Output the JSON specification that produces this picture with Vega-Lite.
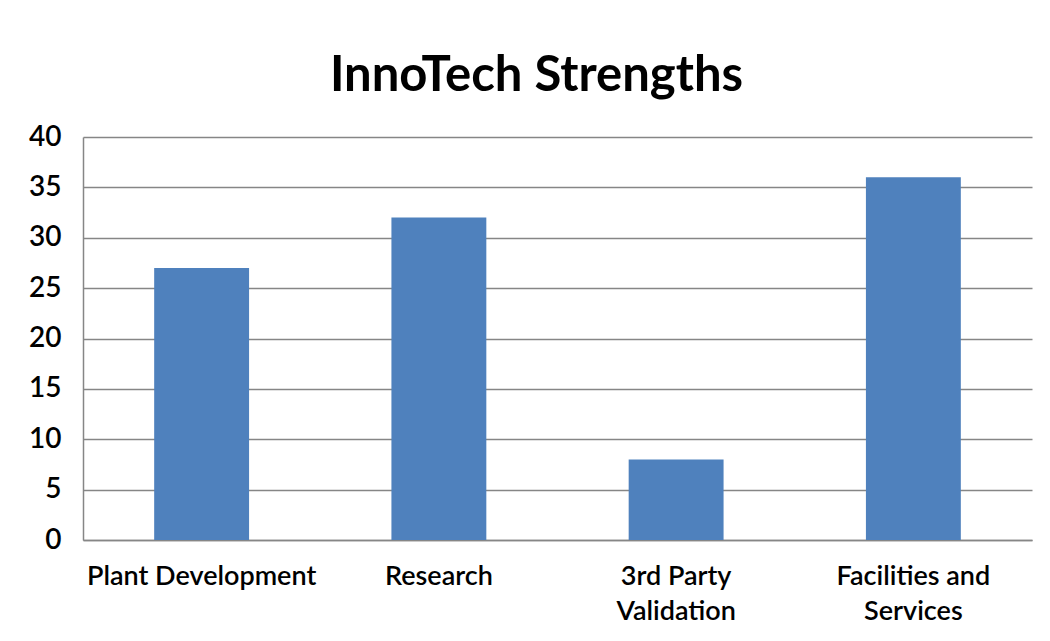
{
  "$schema": "https://vega.github.io/schema/vega-lite/v6.json",
  "autosize": "none",
  "width": 949,
  "height": 403,
  "padding": {"left": 83, "top": 137, "right": 18, "bottom": 101},
  "background": "white",
  "title": {
    "text": "InnoTech Strengths",
    "font": "Lato",
    "fontSize": 49,
    "fontWeight": "bold",
    "color": "#000000",
    "anchor": "middle",
    "dx": -21,
    "offset": 22
  },
  "data": {
    "values": [
      {"category": "Plant Development", "value": 27},
      {"category": "Research", "value": 32},
      {"category": "3rd Party Validation", "value": 8},
      {"category": "Facilities and Services", "value": 36}
    ]
  },
  "mark": {"type": "bar", "color": "#4F81BD"},
  "encoding": {
    "x": {
      "field": "category",
      "type": "nominal",
      "sort": null,
      "title": null,
      "scale": {"paddingInner": 0.6, "paddingOuter": 0.3},
      "axis": {
        "labelAngle": 0,
        "labelFont": "Lato",
        "labelFontSize": 27,
        "labelFontWeight": 600,
        "labelColor": "#000000",
        "labelPadding": 23,
        "labelLineHeight": 35,
        "labelBaseline": "top",
        "labelLimit": 0,
        "labelExpr": "datum.label == '3rd Party Validation' ? ['3rd Party', 'Validation'] : datum.label == 'Facilities and Services' ? ['Facilities and', 'Services'] : datum.label",
        "ticks": false,
        "domainColor": "#868686",
        "domainWidth": 1.5
      }
    },
    "y": {
      "field": "value",
      "type": "quantitative",
      "title": null,
      "scale": {"domain": [0, 40]},
      "axis": {
        "values": [0, 5, 10, 15, 20, 25, 30, 35, 40],
        "labelFont": "Lato",
        "labelFontSize": 28,
        "labelFontWeight": 600,
        "labelColor": "#000000",
        "labelPadding": 22,
        "ticks": false,
        "domainColor": "#868686",
        "domainWidth": 1.5,
        "gridColor": "#868686",
        "gridWidth": 1.5
      }
    }
  },
  "config": {"view": {"stroke": null}}
}
